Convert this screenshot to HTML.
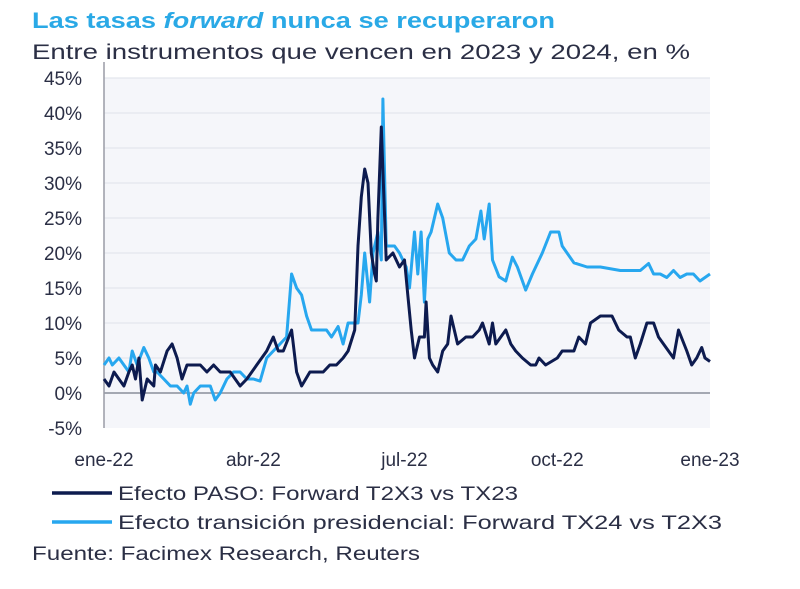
<!DOCTYPE html>
<html><head><meta charset="utf-8"><style>
html,body{margin:0;padding:0;background:#fff;}
svg{display:block;font-family:"Liberation Sans",sans-serif;}
</style></head><body>
<svg id="chart" width="800" height="589" viewBox="0 0 800 589">
<text x="32" y="28" font-size="22" font-weight="bold" fill="#2aa9e6" textLength="523" lengthAdjust="spacingAndGlyphs">Las tasas <tspan font-style="italic">forward</tspan> nunca se recuperaron</text>
<text x="32" y="59" font-size="21" fill="#2b2f45" textLength="658" lengthAdjust="spacingAndGlyphs">Entre instrumentos que vencen en 2023 y 2024, en %</text>
<rect x="104" y="78" width="606" height="350" fill="#f5f6fa"/>
<g id="grid"></g>
<g id="yticks"></g>
<g id="xticks"></g>
<line id="zero" x1="104" x2="710" stroke="#8a8d99" stroke-width="1.5"/>
<line x1="104" y1="62" x2="104" y2="428" stroke="#9a9ca6" stroke-width="1.5"/>
<g id="series"></g>
<line x1="52" y1="493" x2="112" y2="493" stroke="#0d1b4f" stroke-width="3.5"/>
<text x="118" y="500" font-size="19" fill="#2b2f45" textLength="400" lengthAdjust="spacingAndGlyphs">Efecto PASO: Forward T2X3 vs TX23</text>
<line x1="52" y1="522" x2="112" y2="522" stroke="#27a7ef" stroke-width="3.5"/>
<text x="118" y="529" font-size="19" fill="#2b2f45" textLength="604" lengthAdjust="spacingAndGlyphs">Efecto transición presidencial: Forward TX24 vs T2X3</text>
<text x="32" y="560" font-size="19" fill="#2b2f45" textLength="388" lengthAdjust="spacingAndGlyphs">Fuente: Facimex Research, Reuters</text>
</svg>
<script>
const yTicks=[-5,0,5,10,15,20,25,30,35,40,45];
const xTickDays=[0,90,181,273,365];
const xTickLabels=["ene-22","abr-22","jul-22","oct-22","ene-23"];
const pasoDays=[0,3,6,9,12,15,17,19,21,23,26,30,31,34,38,41,44,47,50,54,58,62,66,70,76,82,86,89,92,95,98,102,105,108,113,116,119,124,128,132,136,140,144,147,151,153,155,157,159,161,163,164,165,167,170,174,178,181,183,185,187,190,192,193,194,196,198,201,204,207,209,213,218,222,226,228,232,234,236,242,245,248,252,257,260,262,266,273,276,283,286,290,293,299,302,306,310,315,317,320,323,327,331,334,337,340,343,346,351,354,357,360,362,365];
const pasoVals=[2,1,3,2,1,3,4,2,5,-1,2,1,4,3,6,7,5,2,4,4,4,3,4,3,3,1,2,3,4,5,6,8,6,6,9,3,1,3,3,3,4,4,5,6,9,21,28,32,30,20,17,16,25,38,19,20,18,19,14,9,5,8,8,8,13,5,4,3,6,7,11,7,8,8,9,10,7,10,7,9,7,6,5,4,4,5,4,5,6,6,8,7,10,11,11,11,9,8,8,5,7,10,10,8,7,6,5,9,6,4,5,6.5,5,4.5];
const transDays=[0,3,5,9,12,15,17,20,24,27,30,32,36,40,44,48,50,52,54,58,62,64,67,70,74,78,82,86,90,94,98,102,106,110,113,116,119,122,125,130,134,137,141,144,147,151,153,155,157,160,162,165,167,168,170,175,178,182,184,187,189,191,193,195,197,201,204,208,212,216,220,224,227,229,232,234,238,242,246,249,254,258,264,269,274,276,283,291,299,311,323,328,331,335,339,343,347,351,355,359,365];
const transVals=[4,5,4,5,4,3,6,4,6.5,5,3,3,2,1,1,0,1,-1.6,0,1,1,1,-1,0,2,3,3,2,2,1.7,5,6,7,8,17,15,14,11,9,9,9,8,9.5,7,10,10,10,14,20,13,20,23,19,42,21,21,20,18,15,23,17,23,13,22,23,27,25,20,19,19,21,22,26,22,27,19,16.6,16,19.4,18,14.7,17,20,23,23,21,18.6,18,18,17.5,17.5,18.5,17,17,16.5,17.5,16.5,17,17,16,17];
const NS="http://www.w3.org/2000/svg";
const X0=104,X1=710,Y0=393,PXPCT=7;
function xScale(d){return X0+(X1-X0)*d/365;}
function yScale(v){return Y0-v*PXPCT;}
const grid=document.getElementById('grid'),yt=document.getElementById('yticks'),xt=document.getElementById('xticks');
yTicks.forEach(v=>{
 if(v!==0&&v!==-5){const l=document.createElementNS(NS,'line');
 
 
 l.setAttribute('x1',X0);l.setAttribute('x2',X1);l.setAttribute('y1',yScale(v));l.setAttribute('y2',yScale(v));
 l.setAttribute('stroke','#e4e6ee');l.setAttribute('stroke-width','1.2');grid.appendChild(l);}
 const t=document.createElementNS(NS,'text');
 
 
 t.setAttribute('x',82);t.setAttribute('y',yScale(v)+7);t.setAttribute('text-anchor','end');
 t.setAttribute('font-size','19');t.setAttribute('fill','#2b2f45');t.textContent=v+'%';yt.appendChild(t);
});
xTickDays.forEach((d,i)=>{
 const t=document.createElementNS(NS,'text');
 
 
 t.setAttribute('x',xScale(d));t.setAttribute('y',466);t.setAttribute('text-anchor','middle');
 t.setAttribute('font-size','19');t.setAttribute('fill','#2b2f45');t.textContent=xTickLabels[i];xt.appendChild(t);
});
const z=document.getElementById('zero');z.setAttribute('y1',yScale(0));z.setAttribute('y2',yScale(0));
function draw(days,vals,color,name){
 const p=document.createElementNS(NS,'path');
 
 
 p.setAttribute('d',days.map((d,i)=>(i?'L':'M')+xScale(d).toFixed(1)+','+yScale(vals[i]).toFixed(1)).join(''));
 p.setAttribute('fill','none');p.setAttribute('stroke',color);p.setAttribute('stroke-width','3');p.setAttribute('stroke-linejoin','round');
 document.getElementById('series').appendChild(p);
}
draw(transDays,transVals,'#27a7ef','line-transicion');
draw(pasoDays,pasoVals,'#0d1b4f','line-paso');
</script>
</body></html>
